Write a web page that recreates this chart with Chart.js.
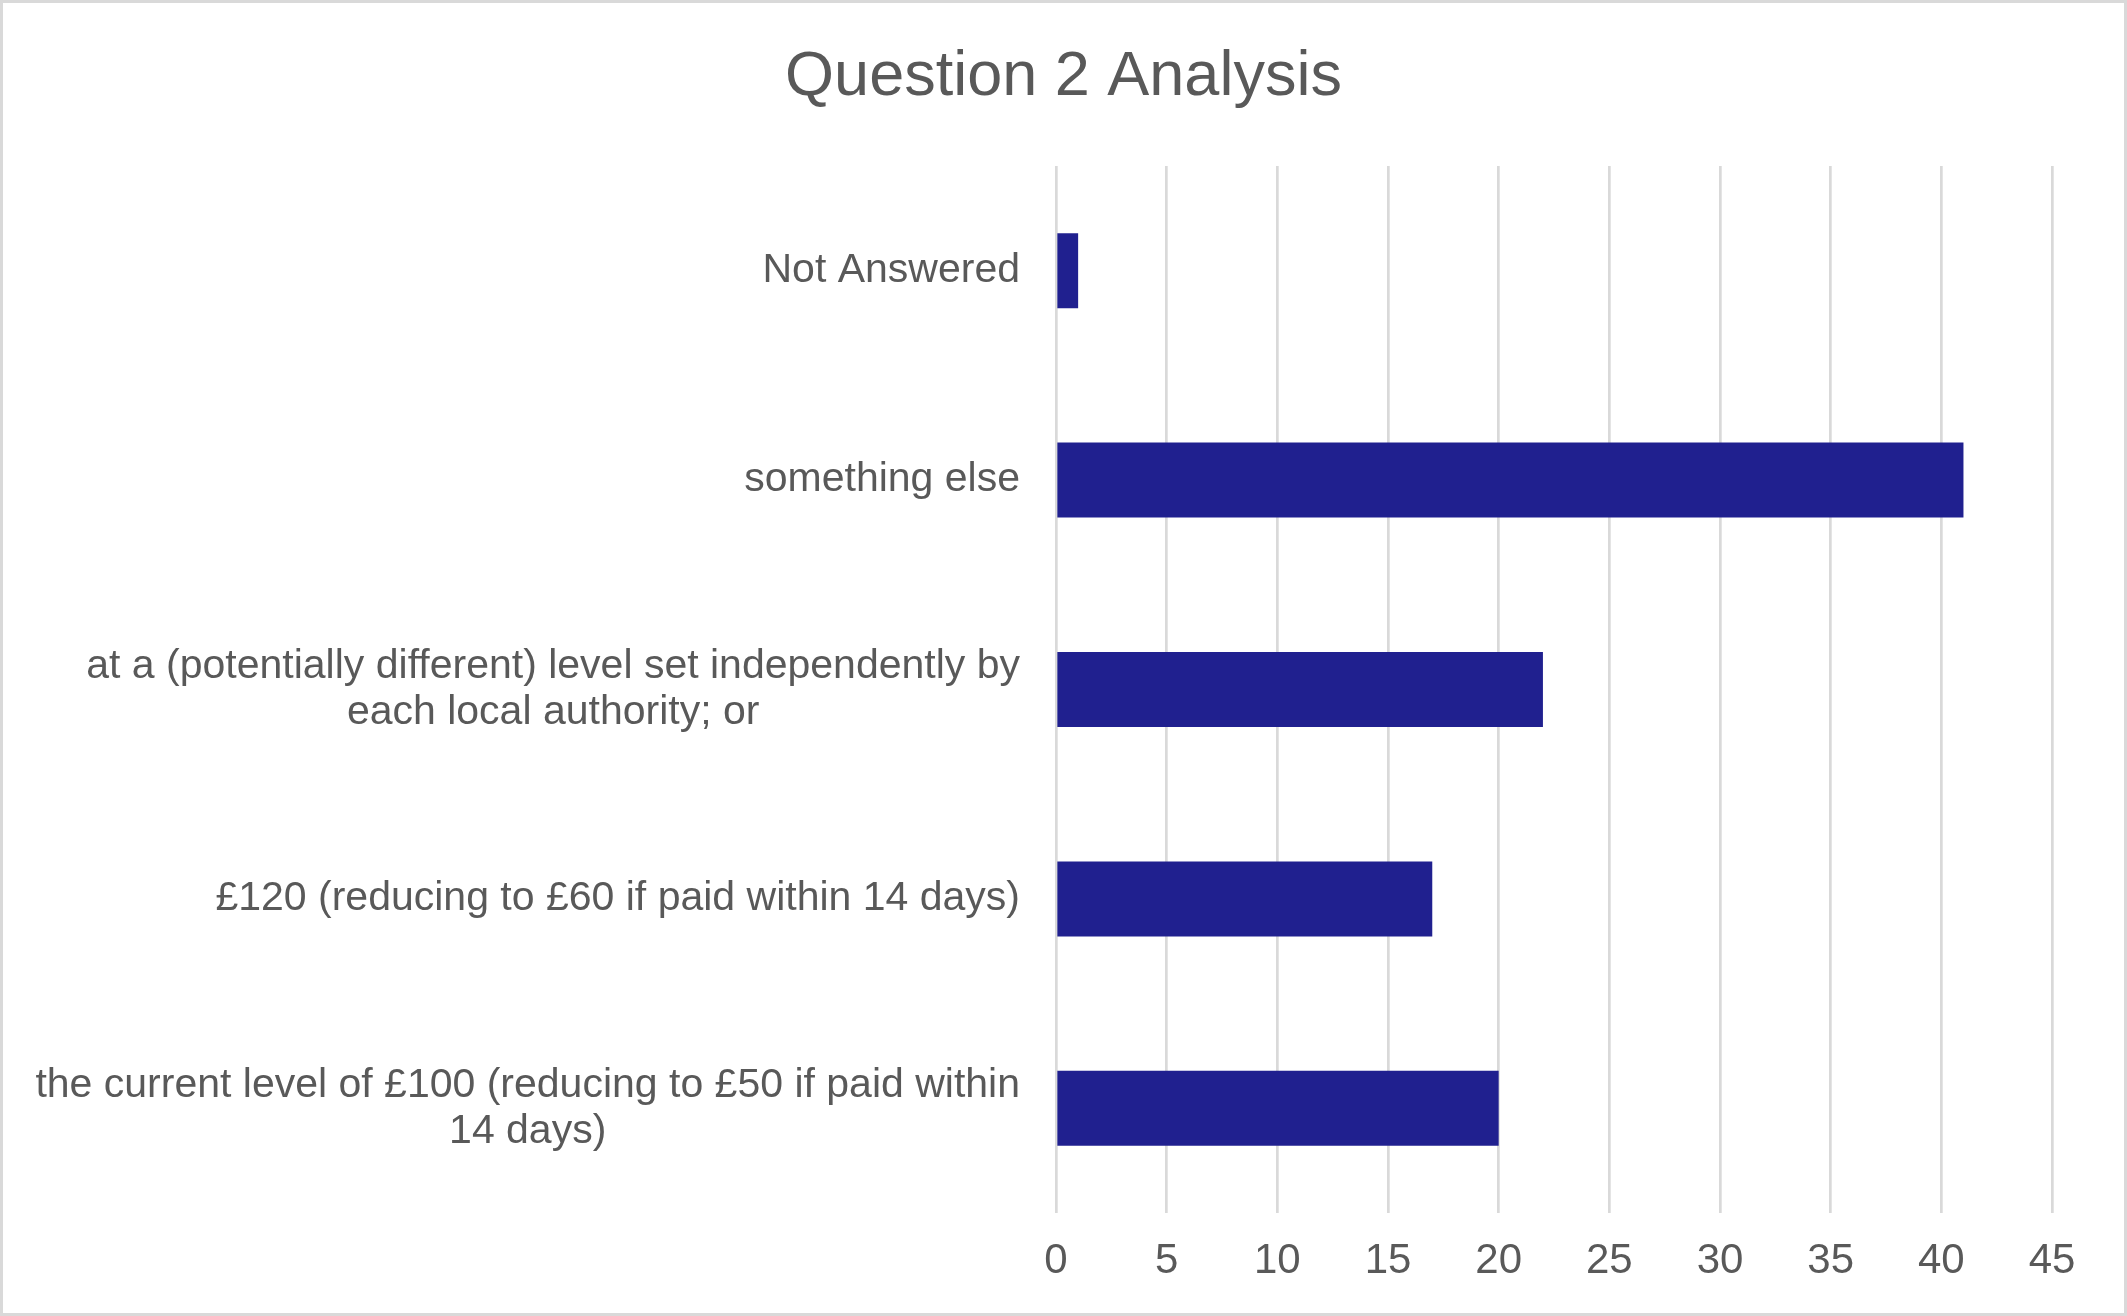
<!DOCTYPE html>
<html>
<head>
<meta charset="utf-8">
<title>Question 2 Analysis</title>
<script src="https://cdn.jsdelivr.net/npm/chart.js@4/dist/chart.umd.min.js"></script>
<style>
    html, body { margin: 0; padding: 0; background: #fff; }
    #wrap { width: 2127px; height: 1316px; position: relative; }
</style>
</head>
<body>
<div id="wrap"><canvas id="q2Chart"></canvas></div>
<script>
// Categories top to bottom, each one an array of label lines
const categories = [
    ['Not Answered'],
    ['something else'],
    ['at a (potentially different) level set independently by', 'each local authority; or'],
    ['£120 (reducing to £60 if paid within 14 days)'],
    ['the current level of £100 (reducing to £50 if paid within', '14 days)']
];
const responses = [1, 41, 22, 17, 20];

const chartTitle = 'Question 2 Analysis';
const axisMin = 0;
const axisMax = 45;
const axisStep = 5;

const FONT = '"Liberation Sans", Arial, sans-serif';
const TEXT_COLOR = '#595959';
const GRID_COLOR = '#d9d9d9';

// Category labels: block right-aligned, lines centred within the block
const categoryLabels = {
    id: 'categoryLabels',
    afterDraw(chart) {
        const ctx = chart.ctx;
        const yScale = chart.scales.y;
        const right = chart.chartArea.left - 36;
        const lineH = 46;
        ctx.save();
        ctx.font = `41px ${FONT}`;
        ctx.fillStyle = TEXT_COLOR;
        ctx.textAlign = 'center';
        ctx.textBaseline = 'middle';
        categories.forEach((lines, i) => {
            const cy = yScale.getPixelForValue(i);
            const maxW = Math.max(...lines.map(l => ctx.measureText(l).width));
            const cx = right - maxW / 2;
            lines.forEach((line, j) => {
                ctx.fillText(line, cx, cy + (j - (lines.length - 1) / 2) * lineH);
            });
        });
        ctx.restore();
    }
};

// White background, light frame and the title centred on the whole canvas
const frame = {
    id: 'frame',
    beforeDraw(chart) {
        const ctx = chart.ctx;
        ctx.save();
        ctx.fillStyle = '#fff';
        ctx.fillRect(0, 0, chart.width, chart.height);
        ctx.strokeStyle = GRID_COLOR;
        ctx.lineWidth = 3;
        ctx.strokeRect(1.5, 1.5, chart.width - 3, chart.height - 3);
        ctx.font = `63px ${FONT}`;
        ctx.fillStyle = TEXT_COLOR;
        ctx.textAlign = 'center';
        ctx.textBaseline = 'middle';
        ctx.fillText(chartTitle, chart.width / 2, 78);
        ctx.restore();
    }
};

const ctx = document.getElementById('q2Chart').getContext('2d');
const q2Chart = new Chart(ctx, {
    type: 'bar',
    data: {
        labels: categories.map(c => c.join(' ')),
        datasets: [{
            data: responses,
            backgroundColor: '#20208f',
            borderWidth: 0,
            categoryPercentage: 1,
            barPercentage: 0.358
        }]
    },
    options: {
        indexAxis: 'y',
        responsive: true,
        maintainAspectRatio: false,
        animation: false,
        devicePixelRatio: 1,
        layout: {
            padding: { left: 0, right: 75, top: 166, bottom: 0 }
        },
        plugins: {
            legend: { display: false },
            tooltip: { enabled: false },
            title: { display: false }
        },
        scales: {
            x: {
                min: axisMin,
                max: axisMax,
                border: { display: false },
                grid: { color: GRID_COLOR, lineWidth: 2.7, drawTicks: false },
                ticks: {
                    stepSize: axisStep,
                    color: TEXT_COLOR,
                    padding: 23,
                    font: { family: FONT, size: 42 }
                },
                afterFit(scale) {
                    scale.height = 103;
                }
            },
            y: {
                border: { display: false },
                grid: { display: false, drawTicks: false },
                ticks: { display: false },
                afterFit(scale) {
                    scale.width = 1056;
                }
            }
        }
    },
    plugins: [frame, categoryLabels]
});
</script>
</body>
</html>
